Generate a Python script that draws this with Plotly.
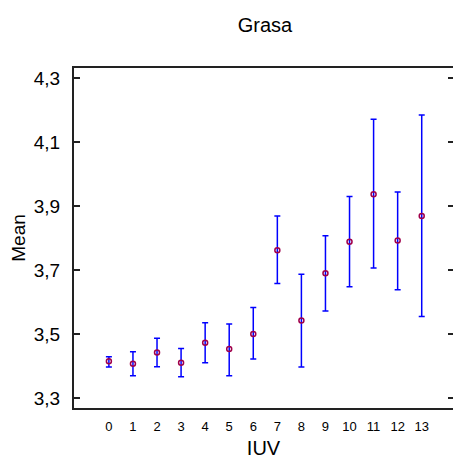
import plotly.graph_objects as go

iuv = [0, 1, 2, 3, 4, 5, 6, 7, 8, 9, 10, 11, 12, 13]
mean = [3.415, 3.407, 3.442, 3.410, 3.473, 3.453, 3.500, 3.762, 3.542, 3.690, 3.788, 3.937, 3.792, 3.869]
upper = [3.429, 3.445, 3.487, 3.455, 3.535, 3.531, 3.583, 3.869, 3.687, 3.807, 3.930, 4.171, 3.944, 4.184]
lower = [3.397, 3.370, 3.398, 3.367, 3.410, 3.370, 3.422, 3.658, 3.397, 3.572, 3.648, 3.706, 3.638, 3.555]
ytick_vals = [3.3, 3.5, 3.7, 3.9, 4.1, 4.3]
ytick_text = ["3,3", "3,5", "3,7", "3,9", "4,1", "4,3"]

err_plus = [u - m for u, m in zip(upper, mean)]
err_minus = [m - l for m, l in zip(mean, lower)]

font_family = "Liberation Sans, Arial, sans-serif"

fig = go.Figure()
fig.add_trace(go.Scatter(
    x=iuv, y=mean, mode="markers",
    marker=dict(symbol="circle-open", size=5, color="#A0004A", line=dict(width=1.5)),
    error_y=dict(type="data", symmetric=False, array=err_plus, arrayminus=err_minus,
                 color="#0000FF", thickness=1.5, width=3),
    showlegend=False, hoverinfo="skip",
))
fig.add_trace(go.Scatter(x=iuv, y=mean, yaxis="y2", mode="markers",
                         marker=dict(opacity=0), showlegend=False, hoverinfo="skip"))

yr = [3.269, 4.331]
fig.update_layout(
    width=454, height=472,
    margin=dict(l=74, r=1, t=68, b=64, autoexpand=False),
    paper_bgcolor="white", plot_bgcolor="white",
    font=dict(family=font_family, color="black"),
    title=dict(text="Grasa", x=265 / 454, xref="container",
               xanchor="center", yref="container", y=1 - 25 / 472, yanchor="middle",
               automargin=False,
               font=dict(size=20, family=font_family, color="black")),
    xaxis=dict(range=[-1.45, 14.3], tickvals=iuv, ticktext=[str(v) for v in iuv],
               showline=True, linecolor="#222", linewidth=2, mirror=True,
               ticks="outside", ticklen=5, tickcolor="rgba(0,0,0,0)",
               showgrid=False, zeroline=False, tickfont=dict(size=13), automargin=False,
               title=dict(text="IUV", font=dict(size=20), standoff=8)),
    yaxis=dict(range=yr, tickvals=ytick_vals, ticktext=ytick_text,
               showline=True, linecolor="#222", linewidth=2, mirror=False,
               ticks="inside", ticklen=6, tickwidth=1.5, tickcolor="#222",
               ticklabelstandoff=8, automargin=False,
               showgrid=False, zeroline=False, tickfont=dict(size=19),
               title=dict(text="Mean", font=dict(size=19), standoff=3)),
    yaxis2=dict(range=yr, tickvals=ytick_vals, overlaying="y", side="right",
                showline=False, showticklabels=False, ticks="inside", ticklen=5,
                tickwidth=1.5, tickcolor="#222", showgrid=False, zeroline=False,
                automargin=False),
)

fig.write_html("out.html", config={"displayModeBar": False},
               post_script="document.body.style.margin='0';")
